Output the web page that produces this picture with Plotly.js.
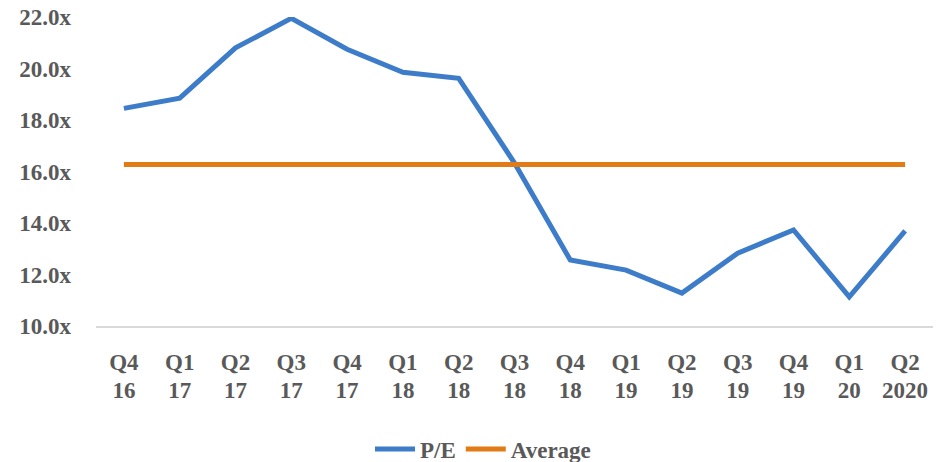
<!DOCTYPE html>
<html>
<head>
<meta charset="utf-8">
<script src="https://cdn.plot.ly/plotly-3.0.1.min.js"></script>
<style>html,body{margin:0;padding:0;background:#fff;}#chart{width:945px;height:462px;}</style>
</head>
<body>
<div id="chart"></div>
<script>
const quarters = ['Q4','Q1','Q2','Q3','Q4','Q1','Q2','Q3','Q4','Q1','Q2','Q3','Q4','Q1','Q2'];
const years = ['16','17','17','17','17','18','18','18','18','19','19','19','19','20','2020'];
const categories = quarters.map((q, i) => q + ' ' + years[i]);
const pe = [18.45, 18.85, 20.8, 21.95, 20.75, 19.85, 19.62, 16.33, 12.56, 12.17, 11.28, 12.83, 13.73, 11.13, 13.69];
const average = [16.27, 16.27, 16.27, 16.27, 16.27, 16.27, 16.27, 16.27, 16.27, 16.27, 16.27, 16.27, 16.27, 16.27, 16.27];
const yTicks = [10, 12, 14, 16, 18, 20, 22];

const fontFam = 'Liberation Serif, serif';
const txtColor = '#595959';

const traces = [
  {x: categories, y: pe, name: 'P/E', type: 'scatter', mode: 'lines',
   line: {color: '#3d7cc9', width: 5}, xaxis: 'x', yaxis: 'y'},
  {x: categories, y: average, name: 'Average', type: 'scatter', mode: 'lines',
   line: {color: '#e07b16', width: 5}, xaxis: 'x', yaxis: 'y'},
  {x: categories, y: pe, type: 'scatter', mode: 'lines', showlegend: false,
   hoverinfo: 'skip', line: {width: 0, color: 'rgba(0,0,0,0)'}, xaxis: 'x2', yaxis: 'y'}
];

const tickFont = {family: fontFam, size: 23, color: txtColor, weight: 'bold'};

const layout = {
  width: 945, height: 462,
  margin: {l: 96, r: 12, t: 17, b: 136},
  paper_bgcolor: '#ffffff', plot_bgcolor: '#ffffff',
  font: {family: fontFam, color: txtColor},
  showlegend: true,
  legend: {orientation: 'h', x: 483/945, xref: 'container', xanchor: 'center',
           y: 1 - 449/462, yref: 'container', yanchor: 'middle',
           font: {family: fontFam, size: 23, color: txtColor, weight: 'bold'},
           itemwidth: 40, tracegroupgap: 0},
  xaxis: {type: 'category', range: [-0.5, 14.5], tickmode: 'array', tickvals: categories,
          ticktext: quarters, showgrid: false, zeroline: false, showline: true,
          linecolor: '#d9d9d9', linewidth: 2, ticks: '', tickfont: tickFont,
          ticklabelstandoff: 14},
  xaxis2: {type: 'category', overlaying: 'x', anchor: 'y', side: 'bottom', range: [-0.5, 14.5],
           tickmode: 'array', tickvals: categories, ticktext: years, showgrid: false,
           zeroline: false, showline: false, ticks: '', tickfont: tickFont,
           ticklabelstandoff: 48},
  yaxis: {range: [10, 22], tickmode: 'array', tickvals: yTicks,
          ticktext: yTicks.map(v => v.toFixed(1) + 'x'), showgrid: false, zeroline: false,
          showline: false, ticks: '', tickfont: tickFont, ticklabelstandoff: 24}
};

Plotly.newPlot('chart', traces, layout, {displayModeBar: false, staticPlot: true});
</script>
</body>
</html>
